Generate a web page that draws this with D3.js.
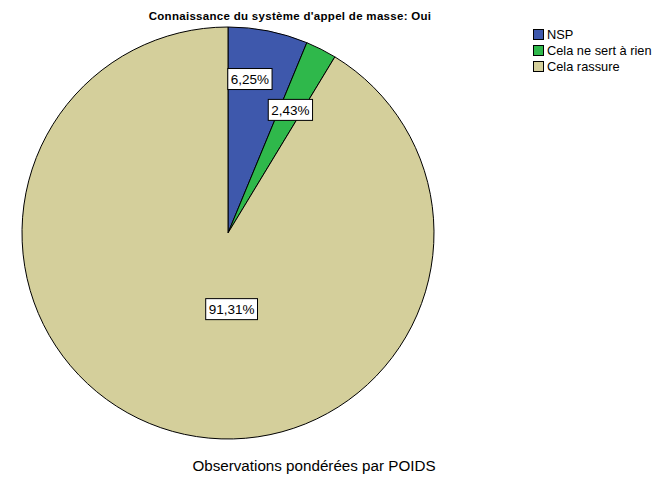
<!DOCTYPE html>
<html>
<head>
<meta charset="utf-8">
<script src="https://cdn.jsdelivr.net/npm/d3@7"></script>
<style>
  body { margin: 0; background: #fff; }
  text { font-family: "Liberation Sans", Arial, sans-serif; }
</style>
</head>
<body>
<div id="chart"></div>
<script>
const categories = ["NSP", "Cela ne sert à rien", "Cela rassure"]
const values = [6.25, 2.43, 91.31]
const valueLabels = ["6,25%", "2,43%", "91,31%"]
const colors = ["#3e58ac", "#2fb84b", "#d4cf9b"]
const title = "Connaissance du système d'appel de masse: Oui"
const footer = "Observations pondérées par POIDS"

const width = 658, height = 478
const cx = 228, cy = 233, radius = 206

const svg = d3.select("#chart").append("svg")
  .attr("width", width)
  .attr("height", height)

svg.append("text")
  .attr("x", 290).attr("y", 20)
  .attr("text-anchor", "middle")
  .attr("font-size", 11.5)
  .attr("font-weight", "bold")
  .attr("letter-spacing", 0.3)
  .text(title)

const pie = d3.pie().sort(null).value(d => d)
const arcs = pie(values)
const arc = d3.arc().innerRadius(0).outerRadius(radius)

const g = svg.append("g").attr("transform", `translate(${cx},${cy})`)

g.selectAll("path.slice")
  .data(arcs)
  .enter().append("path")
  .attr("class", "slice")
  .attr("d", arc)
  .attr("fill", (d, i) => colors[i])
  .attr("stroke", "#000")
  .attr("stroke-width", 1)

// label placement: radius fraction and angle nudge per slice (SPSS-ish placement)
const labelPlace = [{ r: 0.755, da: -0.055 }, { r: 0.67, da: 0 }, { r: 0.37, da: -0.32 }]
const labels = g.selectAll("g.lbl")
  .data(arcs)
  .enter().append("g")
  .attr("class", "lbl")
  .attr("transform", (d, i) => {
    const a = (d.startAngle + d.endAngle) / 2 + labelPlace[i].da
    const rr = radius * labelPlace[i].r
    return `translate(${rr * Math.sin(a)},${-rr * Math.cos(a)})`
  })

labels.each(function (d, i) {
  const sel = d3.select(this)
  const t = sel.append("text")
    .attr("text-anchor", "middle")
    .attr("dy", "0.36em")
    .attr("font-size", 13.5)
    .text(valueLabels[i])
  const bb = t.node().getBBox()
  sel.insert("rect", "text")
    .attr("x", bb.x - 3).attr("y", -10.5)
    .attr("width", bb.width + 6).attr("height", 21)
    .attr("fill", "#fff")
    .attr("stroke", "#000")
    .attr("stroke-width", 1)
})

const legend = svg.append("g").attr("transform", "translate(533,29)")
const rows = legend.selectAll("g")
  .data(categories)
  .enter().append("g")
  .attr("transform", (d, i) => `translate(0,${i * 16})`)
rows.append("rect")
  .attr("x", 0.5).attr("y", 0.5)
  .attr("width", 10).attr("height", 10)
  .attr("fill", (d, i) => colors[i])
  .attr("stroke", "#000")
  .attr("stroke-width", 1)
rows.append("text")
  .attr("x", 14).attr("y", 6)
  .attr("dy", "0.35em")
  .attr("font-size", 12.8)
  .text(d => d)

svg.append("text")
  .attr("x", 314).attr("y", 471)
  .attr("text-anchor", "middle")
  .attr("font-size", 15.2)
  .text(footer)
</script>
</body>
</html>
